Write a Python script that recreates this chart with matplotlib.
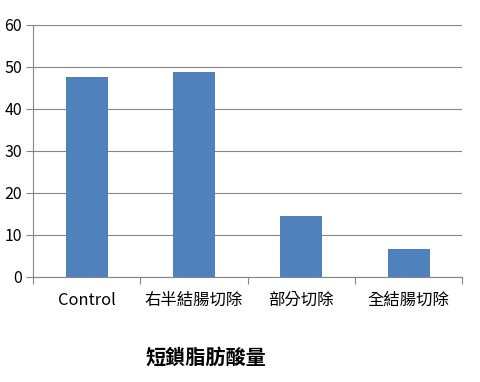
import matplotlib
matplotlib.use("Agg")
import matplotlib.pyplot as plt

plt.rcParams['font.family'] = ['Noto Sans CJK TC', 'DejaVu Sans']

categories = ["Control", "右半結腸切除", "部分切除", "全結腸切除"]
values = [47.6, 48.7, 14.6, 6.7]
yticks = [0, 10, 20, 30, 40, 50, 60]
title = "短鎖脂肪酸量"

fig = plt.figure(figsize=(4.8, 3.82), dpi=100)
ax = fig.add_axes([0.069, 0.275, 0.894, 0.66])
x = list(range(len(categories)))
ax.bar(x, values, width=0.39, color="#4F81BD", zorder=3)
ax.set_xlim(-0.5, len(categories) - 0.5)
ax.set_ylim(0, 60)
ax.set_yticks(yticks)
ax.set_yticklabels([str(v) for v in yticks], fontsize=11.5)
ax.set_xticks(x)
ax.set_xticklabels(categories, fontsize=11.8)
ax.tick_params(axis='x', length=0, pad=11)
ax.set_xticks([i - 0.5 for i in range(len(categories) + 1)], minor=True)
ax.tick_params(axis='x', which='minor', length=5, color="#868686", width=0.8)
ax.tick_params(axis='y', length=5, color="#868686", width=0.8, pad=3)
ax.grid(axis='y', color="#868686", linewidth=0.8, zorder=0)
for s in ['top', 'right']:
    ax.spines[s].set_visible(False)
for s in ['left', 'bottom']:
    ax.spines[s].set_color("#868686")
    ax.spines[s].set_linewidth(0.8)
fig.text(0.428, 0.065, title, fontsize=14.5, fontweight='bold', ha='center', va='center')
fig.savefig("out.png", dpi=100)
